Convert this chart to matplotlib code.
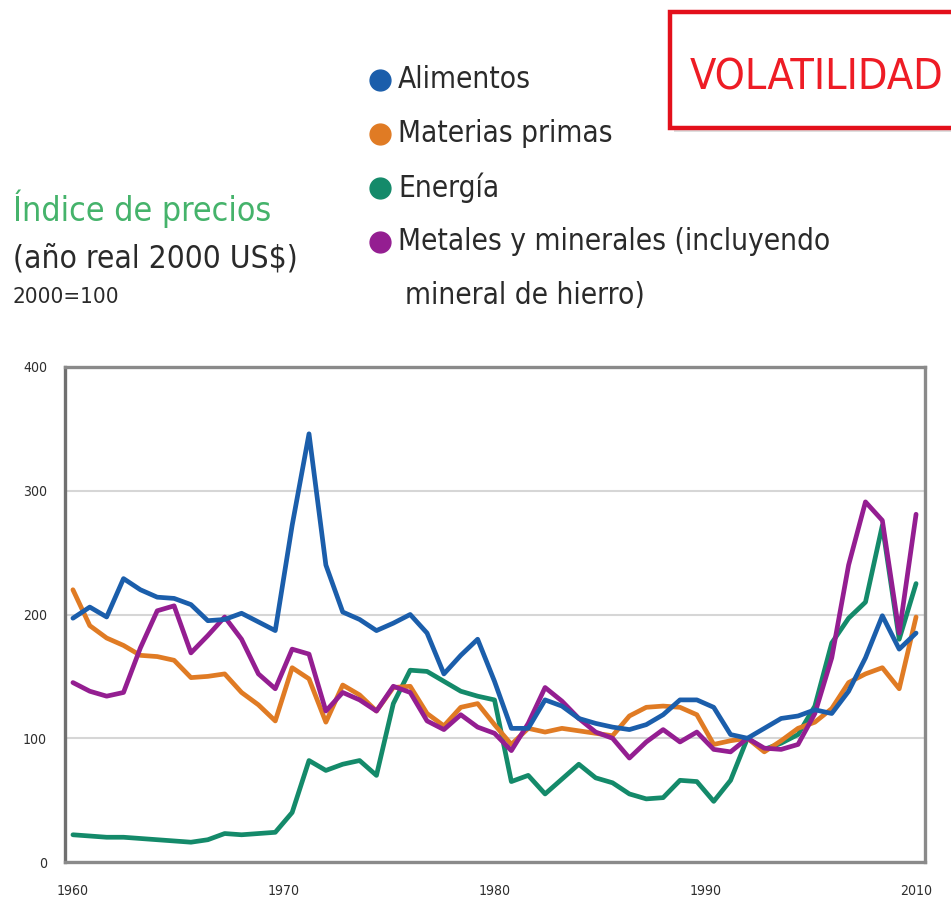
import matplotlib
matplotlib.use("Agg")
import matplotlib.pyplot as plt
from matplotlib.lines import Line2D
from matplotlib.patches import Rectangle
import numpy as np

plt.rcParams['font.family'] = ['DejaVu Sans']
plt.rcParams['font.stretch'] = 'condensed'

# data, index 2000=100
years = list(range(1960, 2011))

alimentos = [197, 206, 198, 229, 220, 214, 213, 208, 195, 196,
             201, 194, 187, 272, 346, 240, 202, 196, 187, 193,
             200, 185, 152, 167, 180, 146, 108, 108, 131, 126,
             116, 112, 109, 107, 111, 119, 131, 131, 125, 103,
             100, 108, 116, 118, 123, 120, 138, 165, 199, 172, 185]

materias_primas = [220, 191, 181, 175, 167, 166, 163, 149, 150, 152,
                   137, 127, 114, 157, 148, 113, 143, 135, 122, 141,
                   142, 120, 110, 125, 128, 111, 95, 108, 105, 108,
                   106, 104, 102, 118, 125, 126, 125, 119, 95, 98,
                   100, 89, 98, 108, 113, 124, 145, 152, 157, 140, 198]

energia = [22, 21, 20, 20, 19, 18, 17, 16, 18, 23,
           22, 23, 24, 40, 82, 74, 79, 82, 70, 128,
           155, 154, 146, 138, 134, 131, 65, 70, 55, 67,
           79, 68, 64, 55, 51, 52, 66, 65, 49, 66,
           100, 91, 96, 103, 126, 177, 197, 210, 272, 180, 225]

metales = [145, 138, 134, 137, 173, 203, 207, 169, 183, 198,
           180, 152, 140, 172, 168, 122, 137, 131, 122, 142,
           137, 114, 107, 119, 109, 104, 90, 112, 141, 130,
           116, 105, 100, 84, 97, 107, 97, 105, 91, 89,
           100, 92, 91, 95, 120, 165, 240, 291, 276, 185, 281]

legend_labels = ["Alimentos", "Materias primas", "Energía",
                 "Metales y minerales (incluyendo"]
legend_extra = "mineral de hierro)"
x_tick_labels = ["1960", "1970", "1980", "1990", "2010"]
y_ticks = [0, 100, 200, 300, 400]

c_blue = '#1b5eab'
c_orange = '#e07b24'
c_green = '#148a6a'
c_purple = '#941e91'

W, H = 951, 907
fig = plt.figure(figsize=(W / 100, H / 100), dpi=100)
renderer = fig.canvas.get_renderer()

def fx(px):
    return px / W

def fy(px):
    return 1 - px / H

def fit_size(s, width_px, size=20, **kw):
    # font size that gives the text the width it has in the picture
    t = fig.text(0, 0, s, fontsize=size, **kw)
    w = t.get_window_extent(renderer).width
    t.remove()
    return size * width_px / w

ax = fig.add_axes([fx(65), 45 / H, 860 / W, 495 / H])

lw = 3.4
ax.plot(years, energia, color=c_green, lw=lw, solid_joinstyle='round', solid_capstyle='round')
ax.plot(years, materias_primas, color=c_orange, lw=lw, solid_joinstyle='round', solid_capstyle='round')
ax.plot(years, metales, color=c_purple, lw=lw, solid_joinstyle='round', solid_capstyle='round')
ax.plot(years, alimentos, color=c_blue, lw=lw, solid_joinstyle='round', solid_capstyle='round')

tick_size = fit_size("1960", 32)
ax.set_xlim(1959.53, 2010.53)
ax.set_ylim(0, 400)
ax.set_yticks(y_ticks)
ax.set_yticklabels([str(v) for v in y_ticks])
ax.set_xticks(np.linspace(1960, 2010, len(x_tick_labels)))
ax.set_xticklabels(x_tick_labels)
ax.tick_params(axis='both', length=0, labelsize=tick_size, colors='#2e2e2e')
ax.tick_params(axis='y', pad=13)
ax.tick_params(axis='x', pad=16)
ax.yaxis.grid(True, color='#d6d6d6', lw=1.5)
ax.set_axisbelow(True)
for s in ax.spines.values():
    s.set_color('#8a8a8a')
    s.set_linewidth(2.4)
ax.spines['left'].set_color('#707070')

# title block at left
title_size = fit_size("Índice de precios", 259)
fig.text(fx(13), fy(221), "Índice de precios", color='#45b36b', fontsize=title_size, va='baseline')
fig.text(fx(13), fy(268), "(año real 2000 US$)", color='#2a2a2a',
         fontsize=fit_size("(año real 2000 US$)", 284), va='baseline')
fig.text(fx(13), fy(303), "2000=100", color='#2a2a2a',
         fontsize=fit_size("2000=100", 106), va='baseline')

# legend with bullets
leg_size = fit_size(legend_labels[3], 433)
colors = [c_blue, c_orange, c_green, c_purple]
for i, (lab, col) in enumerate(zip(legend_labels, colors)):
    yc = 80 + 54 * i
    fig.add_artist(Line2D([fx(380)], [fy(yc)], marker='o', markersize=15,
                          color=col, transform=fig.transFigure))
    fig.text(fx(398), fy(yc), lab, color='#2a2a2a', fontsize=leg_size, va='center')
fig.text(fx(405), fy(80 + 54 * 4), legend_extra, color='#2a2a2a', fontsize=leg_size, va='center')

# red box
fig.add_artist(Rectangle((fx(674), fy(132)), 300 / W, 116 / H, transform=fig.transFigure,
                         fc='#c8c8c8', ec='none', alpha=0.6))
fig.add_artist(Rectangle((fx(670), fy(128)), 300 / W, 116 / H, transform=fig.transFigure,
                         fc='white', ec='#e3101b', lw=3.2))
fig.text(fx(690), fy(77), "VOLATILIDAD", color='#ee1c25',
         fontsize=fit_size("VOLATILIDAD", 255), va='center')

fig.savefig('out.png', dpi=100)
